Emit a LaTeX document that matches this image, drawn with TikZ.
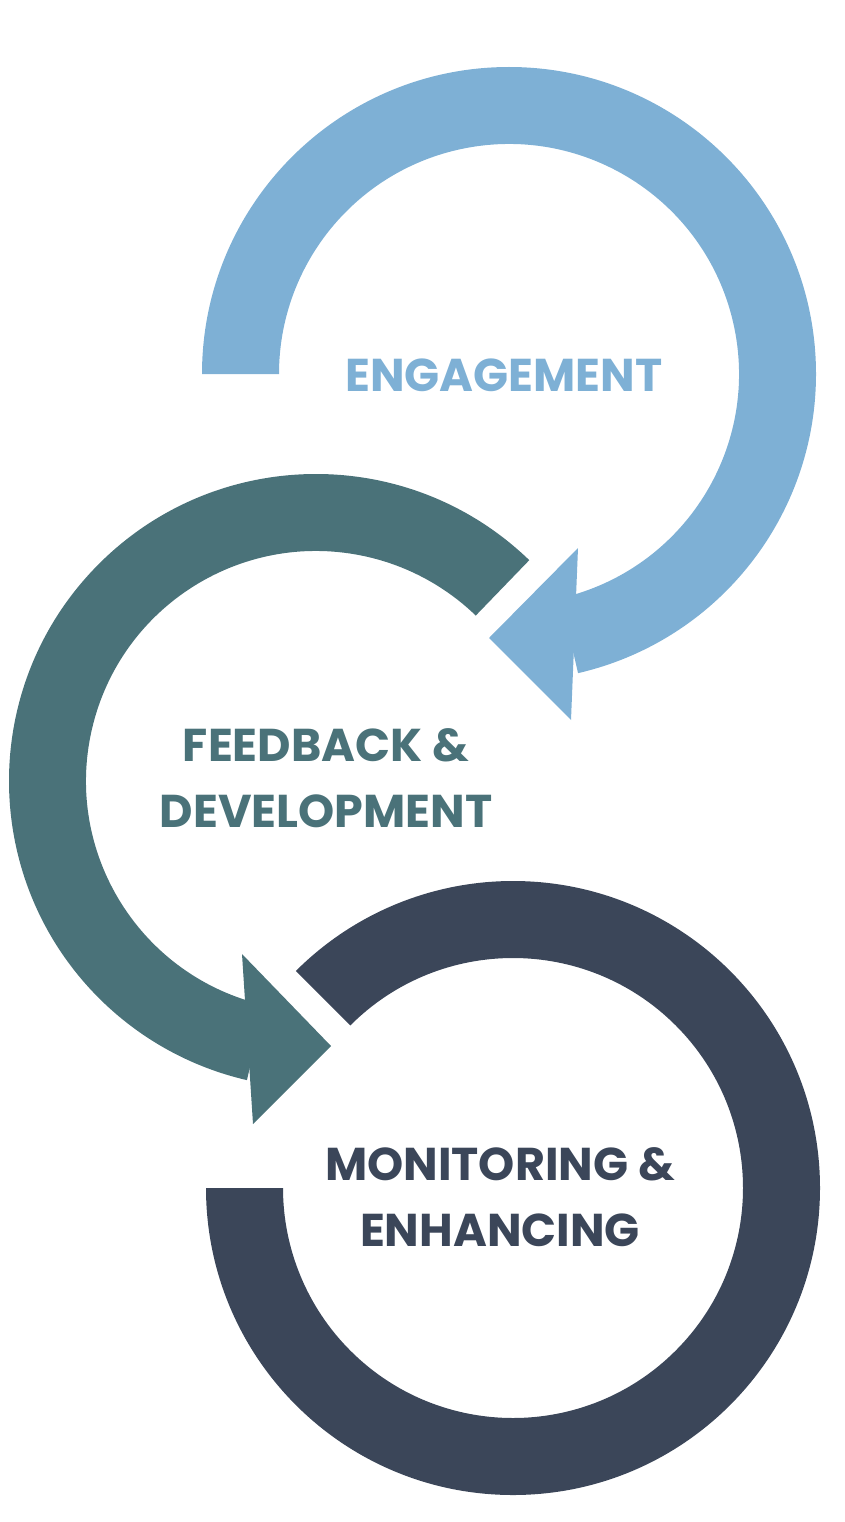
\documentclass[tikz,border=0pt]{standalone}
\usepackage{fontspec}
\setmainfont{Poppins}
\usetikzlibrary{calc}
\definecolor{cA}{HTML}{7EB0D5}
\definecolor{cB}{HTML}{4A7279}
\definecolor{cC}{HTML}{3B4659}
\begin{document}
\begin{tikzpicture}[x=1pt,y=1pt,
  lbl/.style={font=\fontsize{46}{66}\selectfont\bfseries, align=center, inner sep=0pt}]
\useasboundingbox (0,0) rectangle (844,-1522);
% ring 1
\coordinate (c1) at (509,-374);
\fill[cA] ($(c1)+(180:307)$) arc[start angle=180,end angle=-77,radius=307]
  -- ($(c1)+(-77:230)$) arc[start angle=-77,end angle=180,radius=230] -- cycle;
\fill[cA] (578,-548) -- (489,-638) -- (571,-720) -- cycle;
% ring 2
\coordinate (c2) at (316,-781);
\fill[cB] ($(c2)+(46:307)$) arc[start angle=46,end angle=257,radius=307]
  -- ($(c2)+(257:230)$) arc[start angle=257,end angle=46,radius=230] -- cycle;
\fill[cB] (242,-954) -- (331,-1046) -- (253,-1124) -- cycle;
% ring 3
\coordinate (c3) at (513,-1188);
\fill[cC] ($(c3)+(180:307)$) arc[start angle=180,end angle=495,radius=307]
  -- ($(c3)+(135:230)$) arc[start angle=135,end angle=-180,radius=230] -- cycle;
% labels
\node[lbl,text=cA] (t1) at (504,-375) {ENGAGEMENT};
\node[lbl,text=cB] (t2) at (326,-778) {FEEDBACK \&\\DEVELOPMENT};
\node[lbl,text=cC] (t3) at (500,-1197) {MONITORING \&\\ENHANCING};
\end{tikzpicture}
\end{document}
